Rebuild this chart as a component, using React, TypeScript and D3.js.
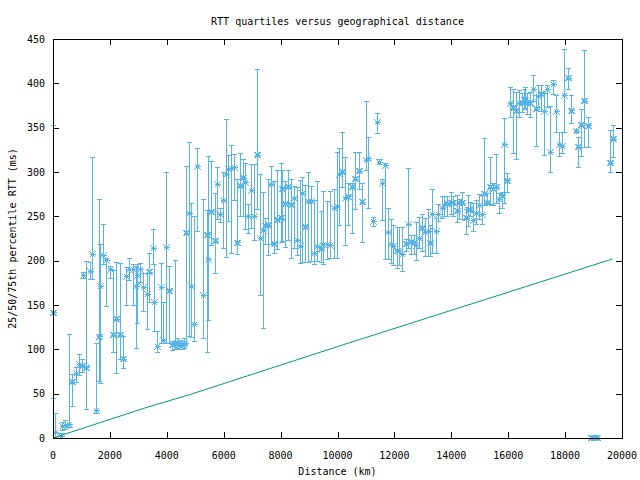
import React from "react";
import * as d3 from "d3";

const title = "RTT quartiles versus geographical distance";
const xLabel = "Distance (km)";
const yLabel = "25/50/75th percentile RTT (ms)";
const xTicks = [0, 2000, 4000, 6000, 8000, 10000, 12000, 14000, 16000, 18000, 20000];
const yTicks = [0, 50, 100, 150, 200, 250, 300, 350, 400, 450];

const distance = [
  0, 60, 290, 328, 433, 562, 668, 797, 914, 1008, 1055, 1171, 1289, 1371, 1500, 1606, 1664, 1758, 1875, 1992,
  2097, 2214, 2355, 2472, 2566, 2683, 2800, 2917, 2964, 3058, 3175, 3293, 3386, 3503, 3562, 3667, 3785, 3878, 3972, 4089,
  4171, 4288, 4370, 4440, 4523, 4605, 4675, 4791, 4839, 4956, 5050, 5285, 5401, 5460, 5565, 5682, 5776, 5881, 5976, 6081,
  6163, 6257, 6374, 6468, 6573, 6679, 6749, 6855, 6960, 7066, 7182, 7276, 7382, 7452, 7569, 7663, 7768, 7885, 8003, 8038,
  8155, 8271, 8366, 8471, 8588, 8682, 8741, 8858, 8975, 9058, 9174, 9291, 9409, 9502, 9620, 9737, 9877, 9994, 10053, 10170,
  10264, 10381, 10500, 10615, 10767, 10873, 10991, 11083, 11259, 11378, 11470, 11576, 11670, 11786, 11881, 11962, 12080, 12172, 12277, 12397,
  12489, 12584, 12689, 12760, 12865, 12981, 13076, 13170, 13251, 13310, 13462, 13545, 13662, 13755, 13860, 13979, 14071, 14189, 14282, 14387,
  14506, 14598, 14657, 14752, 14868, 14985, 15090, 15150, 15265, 15360, 15477, 15571, 15688, 15771, 15853, 15969, 16064, 16158, 16274, 16391,
  16473, 16543, 16591, 16672, 16767, 16884, 16978, 17060, 17144, 17260, 17353, 17469, 17586, 17681, 17797, 17880, 17973, 18091, 18197, 18373,
  18464, 18559, 18664, 18794, 18899, 19016, 19132, 19580, 19673,
];
const q1 = [
  44, 1, 0, 8, 10, 12, 36, 63, 71, 74, 180, 32, 179, 179, 28, 64, 61, 196, 148, 180,
  96, 73, 88, 78, 149, 178, 150, 101, 129, 175, 143, 122, 153, 196, 120, 96, 107, 107, 107, 107,
  99, 100, 101, 100, 100, 101, 107, 114, 113, 109, 233, 112, 96, 133, 217, 185, 246, 243, 214, 204,
  244, 208, 268, 207, 250, 250, 235, 231, 236, 223, 258, 161, 123, 218, 206, 218, 208, 213, 220, 222,
  215, 223, 202, 214, 206, 197, 198, 198, 198, 199, 196, 199, 198, 196, 201, 202, 203, 203, 240, 283,
  217, 240, 231, 258, 280, 221, 302, 259, 239, 343, 308, 245, 201, 201, 197, 195, 191, 195, 188, 210,
  214, 207, 207, 200, 214, 210, 205, 205, 205, 208, 208, 244, 248, 250, 250, 252, 250, 243, 246, 246,
  230, 238, 250, 233, 241, 246, 241, 262, 263, 263, 262, 265, 253, 259, 264, 277, 362, 321, 314, 362,
  367, 372, 370, 365, 361, 380, 329, 373, 368, 319, 373, 300, 387, 345, 317, 321, 344, 393, 355, 345,
  305, 317, 328, 328, 0, 0, 0, 299, 316,
];
const median = [
  141, 6, 2, 13, 14, 15, 63, 73, 83, 81, 183, 79, 188, 207, 31, 114, 171, 206, 200, 190,
  116, 134, 116, 89, 182, 190, 190, 171, 183, 190, 170, 162, 187, 214, 153, 103, 170, 110, 215, 166,
  105, 106, 107, 105, 105, 106, 231, 253, 171, 128, 306, 161, 229, 201, 255, 222, 286, 252, 268, 297,
  303, 304, 305, 220, 284, 293, 288, 250, 279, 250, 319, 225, 234, 239, 240, 286, 219, 246, 248, 281,
  264, 283, 263, 270, 223, 216, 276, 238, 267, 267, 208, 216, 213, 218, 218, 217, 259, 261, 297, 300,
  270, 272, 283, 292, 301, 266, 313, 315, 244, 356, 311, 287, 307, 232, 218, 216, 211, 210, 207, 219,
  241, 221, 220, 217, 225, 237, 232, 233, 220, 252, 233, 252, 259, 262, 264, 265, 265, 256, 265, 265,
  248, 257, 257, 245, 253, 262, 252, 275, 265, 283, 281, 283, 269, 273, 331, 290, 377, 372, 369, 377,
  378, 381, 381, 378, 378, 393, 371, 385, 388, 368, 393, 322, 399, 368, 331, 329, 386, 406, 369, 346,
  328, 353, 380, 352, 0, 0, 0, 310, 337,
];
const q3 = [
  353, 28, 5, 18, 20, 117, 72, 80, 94, 88, 187, 199, 198, 316, 107, 269, 218, 241, 203, 193,
  189, 198, 197, 114, 192, 203, 196, 193, 196, 197, 186, 186, 208, 235, 196, 120, 197, 153, 300, 193,
  109, 200, 112, 110, 110, 112, 306, 333, 265, 250, 327, 269, 257, 317, 312, 276, 305, 259, 299, 359,
  319, 330, 320, 291, 321, 314, 310, 263, 309, 309, 416, 297, 277, 248, 292, 306, 289, 302, 310, 302,
  289, 302, 292, 284, 283, 290, 294, 285, 299, 284, 268, 289, 255, 278, 267, 278, 280, 322, 326, 345,
  316, 287, 287, 322, 322, 287, 379, 339, 249, 366, 314, 292, 310, 259, 246, 240, 237, 237, 237, 224,
  304, 228, 228, 243, 249, 252, 248, 258, 240, 280, 247, 263, 272, 272, 272, 277, 272, 274, 269, 277,
  258, 274, 266, 264, 268, 275, 274, 338, 276, 316, 287, 320, 276, 277, 360, 298, 395, 393, 390, 392,
  388, 393, 395, 388, 390, 409, 386, 397, 397, 388, 397, 374, 403, 386, 345, 345, 438, 417, 386, 348,
  339, 370, 437, 362, 0, 0, 0, 347, 352,
];

const minDist = [0, 3340, 4816, 10088, 19673];
const minRtt = [0, 35, 49, 104, 202];

const W = 640;
const H = 480;
const left = 53;
const right = 622;
const top = 39;
const bottom = 438;
const blue = "#56b4e9";
const green = "#009e73";
const font = "'DejaVu Sans Mono', monospace";

export default function App() {
  const x = d3.scaleLinear().domain([0, 20000]).range([left, right]);
  const y = d3.scaleLinear().domain([0, 450]).range([bottom, top]);
  const line = d3
    .line<number>()
    .x((_, i) => x(minDist[i]))
    .y((d) => y(d));
  const cap = 2.5;
  const s = 3;
  const tl = 6;

  return (
    <svg
      width={W}
      height={H}
      style={{ position: "absolute", left: 0, top: 0, background: "#fff" }}
      fontFamily={font}
      fontSize={10}
    >
      <rect x={0} y={0} width={W} height={H} fill="#fff" />
      {/* error bars */}
      <g stroke={blue} strokeWidth={1} fill="none" shapeRendering="crispEdges">
        {distance.map((d, i) => {
          const cx = Math.round(x(d)) + 0.5;
          const y1 = y(q1[i]);
          const y3 = y(q3[i]);
          const ym = y(median[i]);
          return (
            <g key={i}>
              <line x1={cx} x2={cx} y1={y1} y2={y3} />
              <line x1={cx - cap} x2={cx + cap} y1={y1} y2={y1} />
              <line x1={cx - cap} x2={cx + cap} y1={y3} y2={y3} />
              <line x1={cx - s} x2={cx + s} y1={ym} y2={ym} />
              <line x1={cx} x2={cx} y1={ym - s} y2={ym + s} />
              <line x1={cx - s} x2={cx + s} y1={ym - s} y2={ym + s} />
              <line x1={cx - s} x2={cx + s} y1={ym + s} y2={ym - s} />
            </g>
          );
        })}
      </g>
      <path d={line(minRtt) || ""} fill="none" stroke={green} strokeWidth={1} />
      {/* frame */}
      <g stroke="#000" strokeWidth={1} shapeRendering="crispEdges">
        <rect x={left + 0.5} y={top + 0.5} width={right - left} height={bottom - top} fill="none" />
        {yTicks.map((t) => (
          <g key={"y" + t}>
            <line x1={left} x2={left + tl} y1={Math.round(y(t)) + 0.5} y2={Math.round(y(t)) + 0.5} />
            <line x1={right - tl} x2={right} y1={Math.round(y(t)) + 0.5} y2={Math.round(y(t)) + 0.5} />
          </g>
        ))}
        {xTicks.map((t) => (
          <g key={"x" + t}>
            <line x1={Math.round(x(t)) + 0.5} x2={Math.round(x(t)) + 0.5} y1={bottom} y2={bottom - tl} />
            <line x1={Math.round(x(t)) + 0.5} x2={Math.round(x(t)) + 0.5} y1={top} y2={top + tl} />
          </g>
        ))}
      </g>
      <g fill="#000">
        {yTicks.map((t) => (
          <text key={"yl" + t} x={left - 8} y={y(t)} dy="0.35em" textAnchor="end">
            {t}
          </text>
        ))}
        {xTicks.map((t) => (
          <text key={"xl" + t} x={x(t)} y={bottom + 17} dy="0.35em" textAnchor="middle">
            {t}
          </text>
        ))}
        <text x={(left + right) / 2} y={21} dy="0.35em" textAnchor="middle">
          {title}
        </text>
        <text x={(left + right) / 2} y={471} dy="0.35em" textAnchor="middle">
          {xLabel}
        </text>
        <text
          transform={`translate(12, ${(top + bottom) / 2}) rotate(-90)`}
          dy="0.35em"
          textAnchor="middle"
        >
          {yLabel}
        </text>
      </g>
    </svg>
  );
}
